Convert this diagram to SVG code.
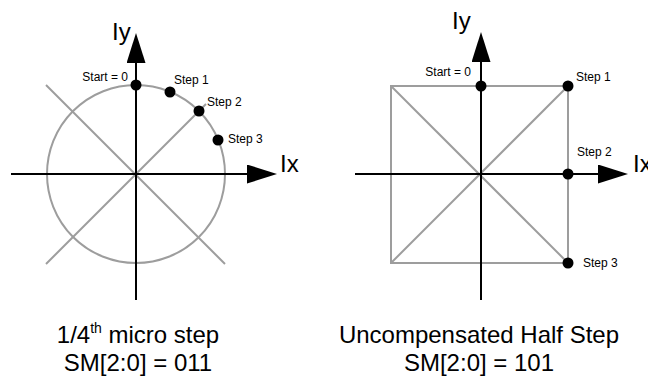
<svg xmlns="http://www.w3.org/2000/svg" width="648" height="379" viewBox="0 0 648 379">
<style>
.g{fill:none;stroke:#9d9d9d;stroke-width:2}
.ax{fill:none;stroke:#000;stroke-width:2}
.dot{fill:#000}
text{font-family:"Liberation Sans",Arial,sans-serif;fill:#000}
.lbl{font-size:12px}
.axl{font-size:24px}
.cap{font-size:24px;text-anchor:middle}
</style>
<defs>
<marker id="arr" markerWidth="30" markerHeight="19" refX="0" refY="9.5" orient="auto" markerUnits="userSpaceOnUse">
<path d="M0,0 L30,9.5 L0,19 Z" fill="#000"/>
</marker>
</defs>
<rect width="648" height="379" fill="#fff"/>

<g id="left-diagram">
<circle class="g" cx="136" cy="174" r="89"/>
<line class="g" x1="46" y1="85" x2="225" y2="264"/>
<line class="g" x1="46" y1="264" x2="206" y2="104"/>
</g>
<g id="right-diagram">
<rect class="g" x="391" y="86" width="177" height="177"/>
<line class="g" x1="391" y1="86" x2="568" y2="263"/>
<line class="g" x1="391" y1="263" x2="568" y2="86"/>
</g>

<g id="connectors">
<line class="ax" x1="136" y1="300" x2="136" y2="63" marker-end="url(#arr)"/>
<line class="ax" x1="11" y1="174" x2="247" y2="174" marker-end="url(#arr)"/>
<line class="ax" x1="481" y1="300" x2="481" y2="62" marker-end="url(#arr)"/>
<line class="ax" x1="355" y1="174" x2="598" y2="174" marker-end="url(#arr)"/>
</g>

<g id="left-start"><circle class="dot" cx="136" cy="85" r="5.5"/><text class="lbl" x="128" y="81" text-anchor="end">Start = 0</text></g>
<g id="left-step1"><circle class="dot" cx="170" cy="92" r="5.5"/><text class="lbl" x="174" y="84">Step 1</text></g>
<g id="left-step2"><circle class="dot" cx="199" cy="111" r="5.5"/><text class="lbl" x="207" y="106">Step 2</text></g>
<g id="left-step3"><circle class="dot" cx="218" cy="140" r="5.5"/><text class="lbl" x="228" y="143">Step 3</text></g>
<g id="left-axis-labels"><text class="axl" x="112" y="40">Iy</text><text class="axl" x="280" y="172">Ix</text></g>
<g id="left-caption"><text class="cap" x="138" y="343">1/4<tspan font-size="14" dy="-10">th</tspan><tspan dy="10"> micro step</tspan></text><text class="cap" x="138" y="371">SM[2:0] = 011</text></g>

<g id="right-start"><circle class="dot" cx="481" cy="86" r="5.5"/><text class="lbl" x="471" y="76" text-anchor="end">Start = 0</text></g>
<g id="right-step1"><circle class="dot" cx="568" cy="86" r="5.5"/><text class="lbl" x="576" y="81">Step 1</text></g>
<g id="right-step2"><circle class="dot" cx="568" cy="174" r="5.5"/><text class="lbl" x="577" y="156">Step 2</text></g>
<g id="right-step3"><circle class="dot" cx="568" cy="263" r="5.5"/><text class="lbl" x="583" y="267">Step 3</text></g>
<g id="right-axis-labels"><text class="axl" x="452" y="29">Iy</text><text class="axl" x="633" y="172">Ix</text></g>
<g id="right-caption"><text class="cap" x="479" y="343">Uncompensated Half Step</text><text class="cap" x="479" y="371">SM[2:0] = 101</text></g>
</svg>
